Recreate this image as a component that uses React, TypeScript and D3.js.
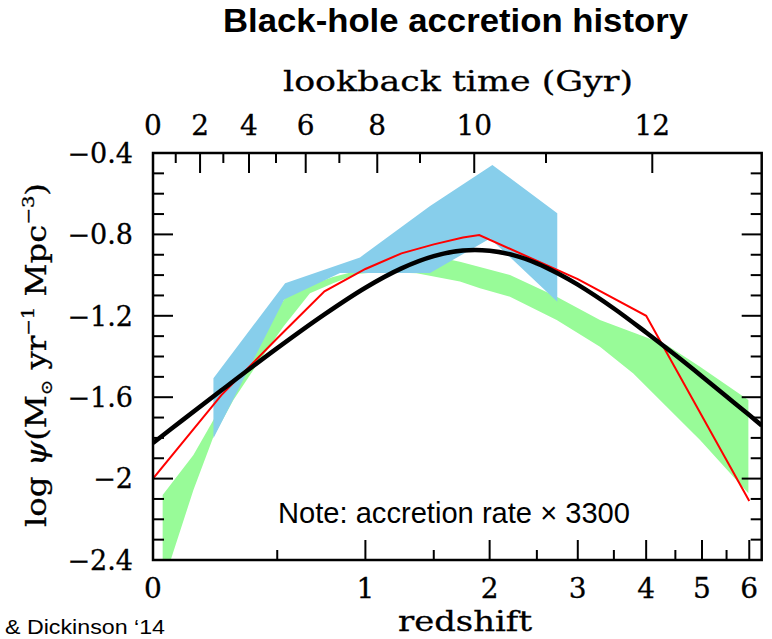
import React from "react";
import * as d3 from "d3";

// ---- data ----
// Smooth fit to the cosmic history (black curve)
const Z_FIT = [0, 0.1, 0.25, 0.5, 0.75, 1, 1.25, 1.5, 1.75, 2, 2.25, 2.5, 2.75, 3, 3.5, 4, 4.5, 5, 5.5, 6, 6.29];
const PSI_FIT = [-1.825, -1.714, -1.566, -1.359, -1.193, -1.062, -0.967, -0.907, -0.879, -0.88, -0.903, -0.942, -0.992, -1.047, -1.164, -1.282, -1.393, -1.498, -1.597, -1.688, -1.739];

// Model accretion history (red line)
const Z_MODEL = [0, 0.25, 0.5, 0.75, 1, 1.25, 1.5, 1.75, 1.9, 3, 4, 6];
const PSI_MODEL = [-2.0, -1.59, -1.31, -1.08, -0.97, -0.893, -0.849, -0.815, -0.803, -1.02, -1.2, -2.11];

// X-ray accretion band (blue)
const Z_XRAY_HI = [0.218, 0.539, 0.965, 1.47, 2.027, 2.741];
const PSI_XRAY_HI = [-1.507, -1.04, -0.913, -0.66, -0.459, -0.696];
const Z_XRAY_LO = [0.218, 0.534, 0.841, 1.47, 2.004, 2.741];
const PSI_XRAY_LO = [-1.802, -1.12, -0.99, -0.99, -0.82, -1.131];

// Optical / IR accretion band (green)
const Z_OPT_HI = [0.032, 0.141, 0.218, 0.373, 0.539, 0.669, 0.799, 1.097, 1.39, 1.608, 1.723, 2.206, 2.734, 3.3, 4.346, 4.961, 5.98];
const PSI_OPT_HI = [-2.081, -1.884, -1.712, -1.368, -1.113, -1.049, -1.009, -0.95, -0.926, -0.921, -0.934, -1.0, -1.106, -1.221, -1.343, -1.45, -1.614];
const Z_OPT_LO = [0.032, 0.0595, 0.141, 0.218, 0.3, 0.418, 0.53, 0.669, 0.8, 0.944, 1.097, 1.364, 1.723, 1.907, 2.206, 2.734, 3.3, 3.795, 4.346, 4.961, 5.98];
const PSI_OPT_LO = [-2.523, -2.4, -2.056, -1.794, -1.614, -1.417, -1.254, -1.089, -1.04, -0.995, -0.985, -0.991, -1.032, -1.065, -1.106, -1.221, -1.352, -1.483, -1.647, -1.81, -2.072];

// axes
const Y_MAJOR = [-0.4, -0.8, -1.2, -1.6, -2.0, -2.4];
const Y_MAJOR_LABELS = ["\u22120.4", "\u22120.8", "\u22121.2", "\u22121.6", "\u22122", "\u22122.4"];
const Y_MINOR = [-0.5, -0.6, -0.7, -0.9, -1.0, -1.1, -1.3, -1.4, -1.5, -1.7, -1.8, -1.9, -2.1, -2.2, -2.3];
const Z_MAJOR = [0, 1, 2, 3, 4, 5, 6];
const Z_MINOR = [0.5, 1.5, 2.5, 3.5, 4.5, 5.5];
const LOOKBACK_GYR = [0, 1, 2, 3, 4, 5, 6, 7, 8, 9, 10, 11, 12];
const LOOKBACK_Z = [0, 0.077, 0.166, 0.258, 0.368, 0.494, 0.646, 0.837, 1.079, 1.39, 1.853, 2.606, 4.101];

const W = 772;
const H = 639;
const LEFT = 153;
const RIGHT = 761.7;
const TOP = 153;
const BOTTOM = 560;
const Z_EDGE = 6.29;

const SERIF = "DejaVu Serif";
const SANS = "Liberation Sans, Arial, sans-serif";

export default function App() {
  const x = d3.scaleLog().domain([1, 1 + Z_EDGE]).range([LEFT, RIGHT]);
  const y = d3.scaleLinear().domain([-2.4, -0.4]).range([BOTTOM, TOP]);
  const X = (z: number) => x(1 + z);

  const pts = (zs: number[], vs: number[]) => zs.map((z, i) => [X(z), y(vs[i])] as [number, number]);
  const band = (zHi: number[], vHi: number[], zLo: number[], vLo: number[]) =>
    d3.line().curve(d3.curveLinearClosed)([...pts(zHi, vHi), ...pts(zLo, vLo).reverse()]) || "";

  const bluePath = band(Z_XRAY_HI, PSI_XRAY_HI, Z_XRAY_LO, PSI_XRAY_LO);
  const greenPath = band(Z_OPT_HI, PSI_OPT_HI, Z_OPT_LO, PSI_OPT_LO);
  const redPath = d3.line()(pts(Z_MODEL, PSI_MODEL)) || "";
  const blackPath = d3.line().curve(d3.curveCatmullRom.alpha(0.5))(pts(Z_FIT, PSI_FIT)) || "";

  const major = 20;
  const minor = 10;

  // slightly heavier strokes for the plot-style serif lettering
  const ink = { fill: "#000", stroke: "#000", strokeWidth: 0.3 };

  return (
    <div style={{ position: "absolute", left: 0, top: 0 }}>
      <svg width={W} height={H} viewBox={`0 0 ${W} ${H}`} style={{ display: "block", background: "#fff" }}>
        <defs>
          <clipPath id="plotArea">
            <rect x={LEFT} y={TOP} width={RIGHT - LEFT} height={BOTTOM - TOP} />
          </clipPath>
        </defs>

        <text x={455.5} y={32} textAnchor="middle" fontFamily={SANS} fontWeight="bold" fontSize={33}
          textLength={465} lengthAdjust="spacingAndGlyphs">Black-hole accretion history</text>

        <g clipPath="url(#plotArea)">
          <path d={greenPath} fill="#98fb98" stroke="none" />
          <path d={bluePath} fill="#87ceeb" stroke="none" />
          <path d={redPath} fill="none" stroke="#ff0000" strokeWidth={2} strokeLinejoin="miter" />
          <path d={blackPath} fill="none" stroke="#000" strokeWidth={4.5} />
        </g>

        {/* frame */}
        <rect x={LEFT} y={TOP} width={RIGHT - LEFT} height={BOTTOM - TOP} fill="none" stroke="#000" strokeWidth={2.5} />

        {/* left / right ticks */}
        <g stroke="#000" strokeWidth={2}>
          {Y_MAJOR.map((v) => (
            <g key={"ym" + v}>
              <line x1={LEFT} x2={LEFT + major} y1={y(v)} y2={y(v)} />
              <line x1={RIGHT} x2={RIGHT - major} y1={y(v)} y2={y(v)} />
            </g>
          ))}
          {Y_MINOR.map((v) => (
            <g key={"yn" + v}>
              <line x1={LEFT} x2={LEFT + minor + 1} y1={y(v)} y2={y(v)} />
              <line x1={RIGHT} x2={RIGHT - minor - 1} y1={y(v)} y2={y(v)} />
            </g>
          ))}
          {/* bottom redshift ticks */}
          {Z_MAJOR.map((z) => (
            <line key={"xm" + z} x1={X(z)} x2={X(z)} y1={BOTTOM} y2={BOTTOM - major} />
          ))}
          {Z_MINOR.map((z) => (
            <line key={"xn" + z} x1={X(z)} x2={X(z)} y1={BOTTOM} y2={BOTTOM - minor} />
          ))}
          {/* top lookback-time ticks */}
          {LOOKBACK_GYR.map((t, i) => (
            <line key={"t" + t} x1={X(LOOKBACK_Z[i])} x2={X(LOOKBACK_Z[i])} y1={TOP}
              y2={TOP + (t % 2 === 0 ? major : minor)} />
          ))}
        </g>

        {/* tick labels */}
        <g fontFamily={SERIF} fontSize={27} {...ink}>
          {Y_MAJOR.map((v, i) => (
            <text key={"yl" + v} x={133} y={y(v)} dy="0.36em" textAnchor="end">{Y_MAJOR_LABELS[i]}</text>
          ))}
          {Z_MAJOR.map((z) => (
            <text key={"xl" + z} x={X(z)} y={598} textAnchor="middle" fontSize={28}>{z}</text>
          ))}
          {LOOKBACK_GYR.filter((t) => t % 2 === 0).map((t) => (
            <text key={"tl" + t} x={X(LOOKBACK_Z[LOOKBACK_GYR.indexOf(t)])} y={135} textAnchor="middle" fontSize={28}>{t}</text>
          ))}
        </g>

        {/* axis titles */}
        <text x={458} y={91} textAnchor="middle" fontFamily={SERIF} fontSize={28} {...ink}
          textLength={350} lengthAdjust="spacingAndGlyphs">lookback time (Gyr)</text>
        <text x={465} y={631} textAnchor="middle" fontFamily={SERIF} fontSize={28} {...ink}
          textLength={134} lengthAdjust="spacingAndGlyphs">redshift</text>
        <text transform="translate(46,355) rotate(-90)" textAnchor="middle" fontFamily={SERIF} fontSize={28} {...ink}
          textLength={344} lengthAdjust="spacingAndGlyphs">
          {"log "}
          <tspan fontStyle="italic">{"\u03c8"}</tspan>
          {"(M"}
          <tspan fontSize={16} dy={6}>{"\u2299"}</tspan>
          <tspan dy={-6}>{" yr"}</tspan>
          <tspan fontSize={17} dy={-12}>{"\u22121"}</tspan>
          <tspan dy={12}>{" Mpc"}</tspan>
          <tspan fontSize={17} dy={-12}>{"\u22123"}</tspan>
          <tspan dy={12}>{")"}</tspan>
        </text>

        <text x={278} y={523} fontFamily={SANS} fontSize={29} textLength={352} lengthAdjust="spacingAndGlyphs">
          {"Note: accretion rate \u00d7 3300"}
        </text>
        <text x={5} y={634} fontFamily={SANS} fontSize={20} textLength={160} lengthAdjust="spacingAndGlyphs">
          {"& Dickinson \u201814"}
        </text>
      </svg>
    </div>
  );
}
